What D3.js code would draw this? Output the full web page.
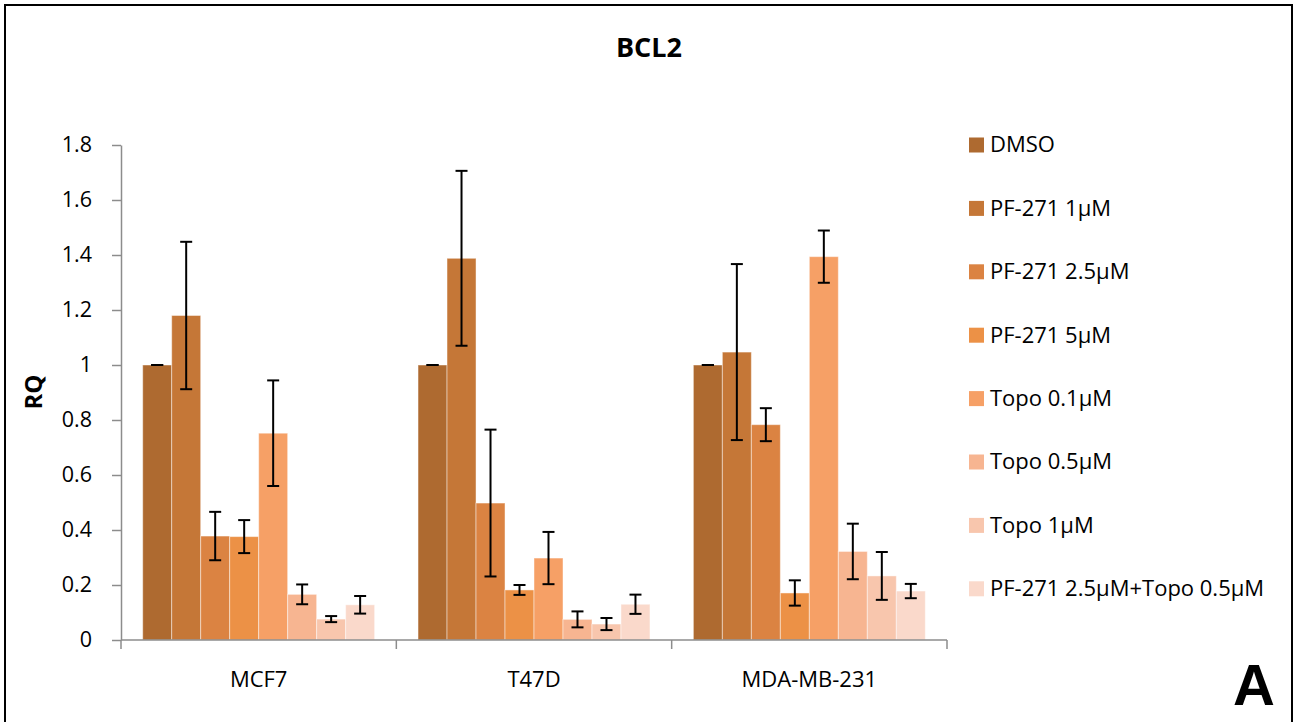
<!DOCTYPE html>
<html>
<head>
<meta charset="utf-8">
<style>
  html, body { margin:0; padding:0; background:#fff; }
  svg { display:block; font-family: "Open Sans", "Liberation Sans", sans-serif; }
</style>
<script src="https://d3js.org/d3.v7.min.js"></script>
</head>
<body>
<div id="chart"></div>
<script>
// data
var cellLines = ['MCF7', 'T47D', 'MDA-MB-231'];
var treatments = ['DMSO', 'PF-271 1\u00b5M', 'PF-271 2.5\u00b5M', 'PF-271 5\u00b5M',
                  'Topo 0.1\u00b5M', 'Topo 0.5\u00b5M', 'Topo 1\u00b5M', 'PF-271 2.5\u00b5M+Topo 0.5\u00b5M'];
var colors = ['#ae6a30', '#c57737', '#db8342', '#ec9146', '#f6a066', '#f7b591', '#f8c6ad', '#fad9cb'];
// one row per cell line, one value per treatment
var rq = [
  [1.0, 1.18, 0.378, 0.376, 0.752, 0.166, 0.076, 0.128],
  [1.0, 1.388, 0.498, 0.182, 0.298, 0.075, 0.058, 0.130],
  [1.0, 1.047, 0.783, 0.171, 1.394, 0.322, 0.233, 0.178]
];
var err = [
  [0.0, 0.268, 0.088, 0.060, 0.192, 0.036, 0.011, 0.032],
  [0.0, 0.318, 0.267, 0.018, 0.095, 0.029, 0.022, 0.035],
  [0.0, 0.320, 0.060, 0.046, 0.095, 0.101, 0.087, 0.026]
];
var yTicks = [0, 0.2, 0.4, 0.6, 0.8, 1, 1.2, 1.4, 1.6, 1.8];

var W = 1296, H = 722;
var svg = d3.select('#chart').append('svg').attr('width', W).attr('height', H);

// frame
svg.append('rect').attr('x', 5).attr('y', 5).attr('width', 1287).attr('height', 730)
  .attr('fill', 'none').attr('stroke', '#000').attr('stroke-width', 2);

var plotLeft = 121, plotRight = 947, plotTop = 145, plotBottom = 640;

var y = d3.scaleLinear().domain([0, 1.8]).range([plotBottom, plotTop]);
var x0 = d3.scaleBand().domain(cellLines).range([plotLeft, plotRight]).padding(0);
var gap = 21.7;
var x1 = d3.scaleBand().domain(d3.range(treatments.length))
  .range([gap, x0.bandwidth() - gap]).padding(0);

function rows(d, i) {
  return rq[i].map(function (v, j) { return { j: j, v: v, e: err[i][j] }; });
}

// bars
var groups = svg.append('g').selectAll('g').data(cellLines).join('g')
  .attr('transform', function (d) { return 'translate(' + x0(d) + ',0)'; });

groups.selectAll('rect').data(rows).join('rect')
  .attr('x', function (d) { return x1(d.j); })
  .attr('y', function (d) { return y(d.v); })
  .attr('width', x1.bandwidth())
  .attr('height', function (d) { return y(0) - y(d.v); })
  .attr('fill', function (d) { return colors[d.j]; })
  .attr('stroke', 'rgba(255,255,255,0.45)')
  .attr('stroke-width', 1);

// error bars
var eb = groups.selectAll('g.eb').data(rows).join('g').attr('class', 'eb')
  .attr('stroke', '#000').attr('stroke-width', 2);

function cx(d) { return x1(d.j) + x1.bandwidth() / 2; }
eb.append('line')
  .attr('x1', cx).attr('x2', cx)
  .attr('y1', function (d) { return y(d.v + d.e); })
  .attr('y2', function (d) { return y(d.v - d.e); });
[1, -1].forEach(function (s) {
  eb.append('line')
    .attr('x1', function (d) { return cx(d) - 6; })
    .attr('x2', function (d) { return cx(d) + 6; })
    .attr('y1', function (d) { return y(d.v + s * d.e); })
    .attr('y2', function (d) { return y(d.v + s * d.e); });
});

// y axis
var yAxis = svg.append('g').attr('transform', 'translate(' + plotLeft + ',0)')
  .call(d3.axisLeft(y).tickValues(yTicks).tickSize(9).tickSizeOuter(0).tickPadding(20)
    .tickFormat(function (d) { return String(+d.toFixed(1)); }));
yAxis.select('.domain').attr('stroke', '#8c8c8c').attr('stroke-width', 1.5);
yAxis.selectAll('.tick line').attr('stroke', '#8c8c8c').attr('stroke-width', 1.5);
yAxis.selectAll('.tick text').attr('font-size', 21.5).attr('fill', '#000')
  .attr('font-family', '"Open Sans", sans-serif');

// x axis
var xAxis = svg.append('g').attr('transform', 'translate(0,' + plotBottom + ')');
xAxis.append('line').attr('x1', plotLeft).attr('x2', plotRight).attr('y1', 0).attr('y2', 0)
  .attr('stroke', '#8c8c8c').attr('stroke-width', 1.5);
var bounds = cellLines.map(function (c) { return x0(c); }).concat([plotRight]);
xAxis.selectAll('line.tk').data(bounds).join('line').attr('class', 'tk')
  .attr('x1', function (d) { return d; }).attr('x2', function (d) { return d; })
  .attr('y1', 0).attr('y2', 9).attr('stroke', '#8c8c8c').attr('stroke-width', 1.5);
xAxis.selectAll('text').data(cellLines).join('text')
  .attr('x', function (d) { return x0(d) + x0.bandwidth() / 2; })
  .attr('y', 47).attr('text-anchor', 'middle').attr('font-size', 22).attr('fill', '#000')
  .text(function (d) { return d; });

// axis title
svg.append('text').attr('transform', 'translate(42,392) rotate(-90)')
  .attr('text-anchor', 'middle').attr('font-size', 24).attr('font-weight', 'bold')
  .text('RQ');

// title
svg.append('text').attr('x', 649).attr('y', 57).attr('text-anchor', 'middle')
  .attr('font-size', 27).attr('font-weight', 'bold').text('BCL2');

// legend
var legend = svg.append('g').selectAll('g').data(treatments).join('g')
  .attr('transform', function (d, i) { return 'translate(969,' + (144.5 + i * 63.4) + ')'; });
legend.append('rect').attr('x', 0).attr('y', -7).attr('width', 15).attr('height', 15)
  .attr('fill', function (d, i) { return colors[i]; });
legend.append('text').attr('x', 21).attr('y', 0).attr('dy', '0.36em')
  .attr('font-size', 22).attr('fill', '#000').text(function (d) { return d; });

// panel letter
svg.append('text').attr('x', 1254).attr('y', 705).attr('text-anchor', 'middle')
  .attr('font-size', 58).attr('font-weight', 'bold')
  .attr('font-family', '"Liberation Sans", Arial, sans-serif').text('A');
</script>
</body>
</html>
